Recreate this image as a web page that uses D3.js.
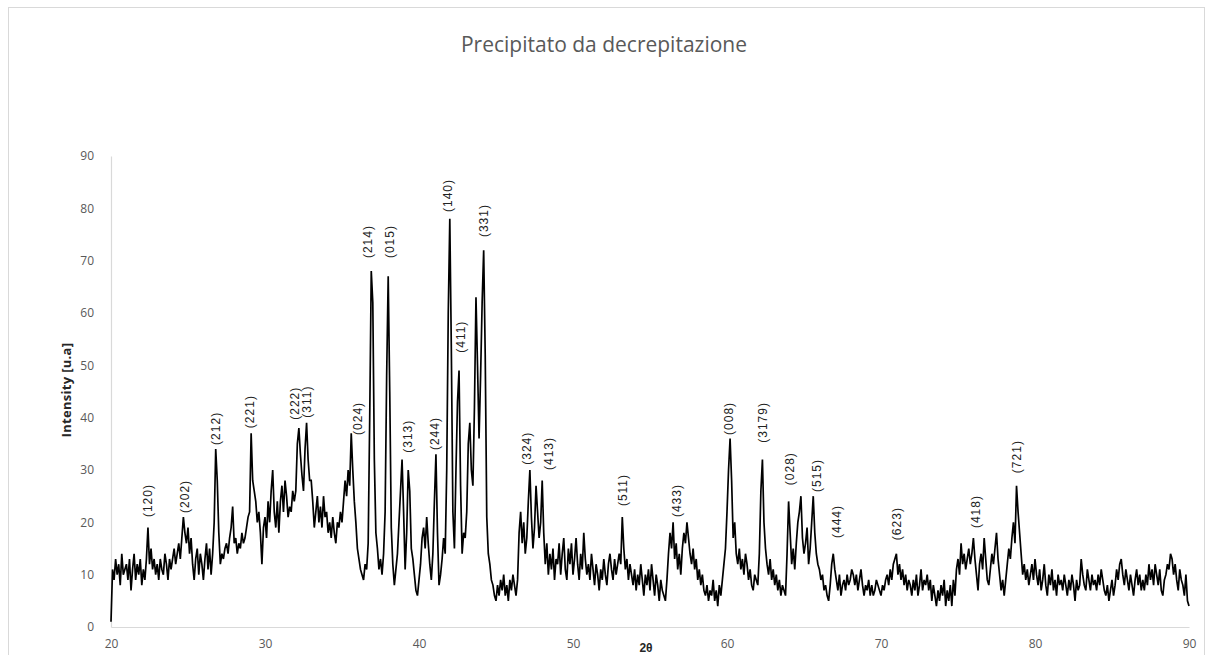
<!DOCTYPE html>
<html>
<head>
<meta charset="utf-8">
<script src="https://cdn.jsdelivr.net/npm/d3@7"></script>
<style>
  body { margin: 0; background: #fff; }
  .tick-label { font-family: "Open Sans", "Liberation Sans", sans-serif; font-size: 12px; fill: #595959; }
  .peak-label { font-family: "Liberation Sans", Arial, sans-serif; font-size: 12px; fill: #222; letter-spacing: 1px; }
</style>
</head>
<body>
<div class="wrap-chart"></div>
<script>
var
  width = 1209,
  height = 655,
  margin = {top: 156, right: 20, bottom: 28, left: 111},
  chartTitle = "Precipitato da decrepitazione",
  xTitle = "2θ",
  yTitle = "Intensity [u.a]";

// 2θ sampling of the scan
var thetaStart = 20, thetaStep = 0.1;

// intensity, one row per degree (20.0 ... 20.9, 21.0 ...)
var intensity = [
  1, 11, 9, 13, 10, 12, 8, 14, 10, 11,
  12, 9, 13, 7, 11, 14, 9, 12, 10, 13,
  8, 11, 9, 13, 19, 12, 15, 11, 13, 10,
  12, 9, 13, 11, 10, 14, 12, 9, 13, 11,
  13, 15, 12, 14, 16, 13, 17, 21, 18, 16,
  19, 14, 17, 12, 9, 13, 15, 10, 14, 12,
  9, 13, 16, 11, 15, 10, 14, 20, 34, 28,
  18, 12, 14, 13, 15, 16, 14, 17, 19, 23,
  16, 17, 14, 16, 15, 18, 16, 17, 19, 21,
  22, 37, 28, 26, 24, 20, 22, 18, 12, 19,
  21, 17, 24, 20, 26, 30, 22, 19, 24, 18,
  24, 27, 22, 28, 25, 21, 23, 22, 26, 24,
  26, 35, 38, 33, 29, 26, 34, 39, 32, 28,
  28, 24, 19, 22, 25, 20, 23, 19, 25, 21,
  22, 18, 20, 17, 21, 18, 16, 20, 19, 22,
  20, 24, 28, 25, 30, 27, 37, 30, 24, 20,
  15, 13, 11, 10, 9, 12, 11, 16, 40, 68,
  62, 32, 18, 15, 11, 13, 10, 14, 22, 48,
  67, 45, 19, 12, 8, 11, 14, 20, 26, 32,
  22, 11, 18, 30, 26, 15, 13, 10, 7, 6,
  9, 12, 17, 19, 15, 21, 16, 12, 9, 14,
  24, 33, 18, 8, 10, 13, 17, 14, 30, 60,
  78, 53, 22, 15, 30, 43, 49, 27, 14, 18,
  17, 22, 35, 39, 30, 27, 42, 63, 50, 36,
  48, 62, 72, 52, 21, 14, 12, 9, 8, 6,
  5, 8, 6, 9, 7, 10, 6, 8, 5, 9,
  7, 10, 8, 6, 9, 18, 22, 16, 20, 14,
  17, 24, 30, 21, 15, 19, 27, 22, 17, 20,
  28, 18, 12, 16, 10, 14, 11, 15, 9, 13,
  12, 16, 10, 14, 17, 11, 9, 15, 12, 16,
  10, 13, 17, 12, 9, 14, 11, 18, 13, 10,
  12, 9, 14, 11, 8, 12, 10, 7, 11, 9,
  13, 10, 8, 12, 14, 11, 9, 13, 10, 12,
  14, 12, 21, 15, 11, 13, 9, 12, 10, 8,
  11, 7, 10, 8, 12, 9, 6, 10, 8, 11,
  7, 12, 9, 6, 10, 8, 5, 9, 7, 6,
  5, 9, 14, 18, 15, 20, 13, 16, 11, 14,
  10, 15, 18, 16, 20, 17, 14, 12, 15, 11,
  13, 9, 11, 8, 10, 7, 6, 8, 5, 7,
  6, 9, 5, 7, 4, 8, 6, 9, 12, 15,
  22, 30, 36, 28, 17, 20, 14, 12, 15, 11,
  13, 10, 14, 12, 9, 11, 8, 7, 10, 9,
  8, 14, 26, 32, 20, 15, 12, 10, 13, 9,
  11, 8, 10, 7, 9, 6, 8, 7, 6, 14,
  24, 18, 12, 15, 11, 16, 20, 22, 25, 17,
  14, 16, 19, 12, 15, 20, 25, 18, 14, 12,
  11, 9, 10, 7, 8, 6, 5, 8, 12, 14,
  11, 9, 7, 10, 6, 8, 9, 7, 10, 8,
  9, 11, 10, 8, 10, 7, 9, 11, 8, 6,
  8, 7, 9, 6, 8, 6, 7, 9, 8, 7,
  6, 8, 7, 9, 10, 8, 11, 9, 12, 13,
  14, 10, 12, 9, 11, 8, 10, 7, 9, 8,
  6, 9, 7, 10, 6, 8, 11, 7, 9, 8,
  10, 7, 9, 5, 8, 6, 4, 7, 5, 8,
  6, 9, 4, 7, 5, 8, 4, 9, 6, 11,
  13, 10, 16, 12, 14, 11, 13, 15, 12, 14,
  17, 13, 10, 7, 12, 14, 11, 17, 13, 9,
  8, 11, 14, 12, 15, 18, 13, 10, 7, 9,
  6, 9, 12, 15, 13, 17, 20, 16, 27, 22,
  18, 14, 10, 12, 9, 11, 8, 10, 12, 9,
  13, 10, 8, 11, 7, 9, 12, 8, 6, 10,
  8, 11, 7, 9, 6, 10, 8, 9, 7, 10,
  8, 6, 9, 7, 10, 8, 5, 9, 7, 8,
  13, 10, 8, 7, 11, 9, 7, 10, 8, 9,
  7, 10, 8, 11, 9, 7, 6, 8, 5, 7,
  9, 6, 8, 11, 9, 12, 13, 10, 8, 11,
  9, 7, 10, 8, 6, 9, 11, 8, 10, 7,
  9, 7, 10, 8, 12, 9, 11, 8, 12, 10,
  8, 11, 7, 6, 9, 10, 12, 11, 14, 13,
  10, 12, 9, 7, 11, 9, 8, 6, 10, 5,
  4
];

// Miller indices marked on the peaks
var peakNames = ["(120)", "(202)", "(212)", "(221)", "(222)", "(311)", "(024)", "(214)", "(015)",
  "(313)", "(244)", "(140)", "(411)", "(331)", "(324)", "(413)", "(511)", "(433)", "(008)",
  "(3179)", "(028)", "(515)", "(444)", "(623)", "(418)", "(721)"];
var peakTheta = [22.4, 24.8, 26.8, 29.0, 31.95, 32.7, 36.0, 36.7, 38.1,
  39.3, 41.0, 41.9, 42.7, 44.2, 47.0, 48.45, 53.25, 56.75, 60.1,
  62.3, 64.1, 65.85, 67.15, 71.0, 76.15, 78.85];
var peakLevel = [21, 21.8, 34.8, 38, 39.6, 40, 36.7, 70.5, 70.5,
  33.3, 33.8, 79.3, 52.4, 74.5, 31, 30, 23.1, 21, 36.7,
  35.2, 27.1, 25.8, 17, 16.6, 18.9, 29.4];

var xTicks = [20, 30, 40, 50, 60, 70, 80, 90];
var yTicks = [0, 10, 20, 30, 40, 50, 60, 70, 80, 90];

var data = intensity.map(function (v, i) {
  return {theta: thetaStart + i * thetaStep, value: v};
});

var x = d3.scaleLinear().domain([20, 90]).range([margin.left, width - margin.right]);
var y = d3.scaleLinear().domain([0, 90]).range([height - margin.bottom, margin.top]);

var svg = d3.select(".wrap-chart")
  .append("svg")
  .attr("width", width)
  .attr("height", height);

// outer frame of the chart area
svg.append("rect")
  .attr("x", 8.5).attr("y", 7.5)
  .attr("width", 1196).attr("height", 680)
  .attr("fill", "none")
  .attr("stroke", "#d9d9d9");

svg.append("text")
  .attr("x", 604).attr("y", 52)
  .attr("text-anchor", "middle")
  .style("font-family", "'Open Sans', 'Liberation Sans', sans-serif")
  .style("font-size", "21px")
  .style("fill", "#595959")
  .text(chartTitle);

// axes (no tick marks, light gray domain lines)
var xAxis = svg.append("g")
  .attr("transform", "translate(0," + y(0) + ")")
  .call(d3.axisBottom(x).tickValues(xTicks).tickSize(0).tickPadding(12));
var yAxis = svg.append("g")
  .attr("transform", "translate(" + x(20) + ",0)")
  .call(d3.axisLeft(y).tickValues(yTicks).tickSize(0).tickPadding(17));

[xAxis, yAxis].forEach(function (g) {
  g.select(".domain").attr("stroke", "#d9d9d9").attr("stroke-width", 1.2);
  g.selectAll("text").attr("class", "tick-label");
});

svg.append("text")
  .attr("x", 646).attr("y", 652)
  .attr("text-anchor", "middle")
  .style("font-family", "'Liberation Sans', Arial, sans-serif")
  .style("font-weight", "bold")
  .style("font-size", "12px")
  .style("fill", "#262626")
  .text(xTitle);

svg.append("text")
  .attr("transform", "translate(66,390) rotate(-90)")
  .attr("text-anchor", "middle")
  .attr("dy", "0.35em")
  .style("font-family", "'Open Sans', 'Liberation Sans', sans-serif")
  .style("font-weight", "bold")
  .style("font-size", "13px")
  .style("letter-spacing", "0.3px")
  .style("fill", "#262626")
  .text(yTitle);

var line = d3.line()
  .x(function (d) { return x(d.theta); })
  .y(function (d) { return y(d.value); });

svg.append("path")
  .datum(data)
  .attr("fill", "none")
  .attr("stroke", "#000")
  .attr("stroke-width", 1.7)
  .attr("stroke-linejoin", "miter")
  .attr("stroke-miterlimit", 2)
  .attr("d", line);

svg.selectAll(".peak-label")
  .data(peakNames)
  .enter()
  .append("text")
  .attr("class", "peak-label")
  .attr("transform", function (d, i) {
    return "translate(" + x(peakTheta[i]) + "," + y(peakLevel[i]) + ") rotate(-90)";
  })
  .attr("dy", "0.35em")
  .text(function (d) { return d; });
</script>
</body>
</html>
